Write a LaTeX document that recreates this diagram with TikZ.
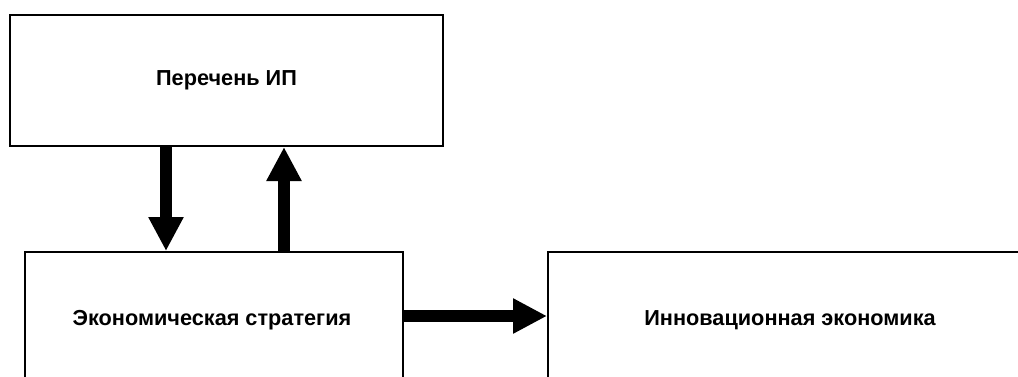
\documentclass[tikz,border=0pt]{standalone}
\usepackage{fontspec}
\setmainfont{Liberation Sans}
\usetikzlibrary{arrows.meta,calc}
\begin{document}
\begin{tikzpicture}[x=1pt,y=-1pt,
  lbl/.style={font=\bfseries\fontsize{21.7}{25}\selectfont},
  box/.style={draw=black,line width=2pt,rectangle,inner sep=0pt,lbl},
  bigarrow/.style={line width=12pt,-{Triangle[length=34pt,width=33pt]}}]
\useasboundingbox (0,0) rectangle (1018,376);
\begin{scope}
\clip (0,0) rectangle (1018,376);
\node[box,minimum width=433pt,minimum height=131pt] (top) at (226.5,80.5) {Перечень ИП};
\node[box,minimum width=378pt,minimum height=150pt] (eco) at (214,327) {};
\node[box,minimum width=490pt,minimum height=150pt] (inn) at (793,327) {};
\node[lbl] (ecot) at (212,320) {Экономическая стратегия};
\node[lbl] (innt) at (790,320) {Инновационная экономика};
\end{scope}
\draw[bigarrow] ($(top.south west)+(157,0)$) -- ($(eco.north west)+(142,0)$);
\draw[bigarrow] ($(eco.north west)+(260,0)$) -- ($(top.south west)+(275,0)$);
\draw[bigarrow] ($(eco.north east)+(0,65)$) -- ($(inn.north west)+(0,65)$);
\end{tikzpicture}
\end{document}
